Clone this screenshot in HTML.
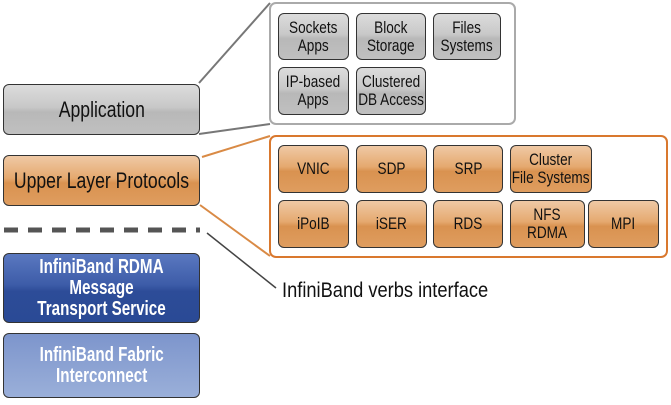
<!DOCTYPE html>
<html><head><meta charset="utf-8"><style>
body{margin:0;width:671px;height:405px;background:#fff;position:relative;overflow:hidden;font-family:"Liberation Sans",sans-serif}
.b{position:absolute;box-sizing:border-box;border:1.5px solid #333;border-radius:6px;display:flex;align-items:center;justify-content:center;text-align:center;line-height:1.05;white-space:nowrap}
.b span{display:inline-block;transform:scaleX(0.8)}
.g{background:linear-gradient(to bottom,#dcdcdc 0%,#c8c8c8 45%,#b8b8b8 55%,#c0c0c0 100%);color:#111}
.o{background:linear-gradient(to bottom,#efc9a5 0%,#e5a96f 45%,#d99250 55%,#df9d5f 100%);color:#111}
.s{font-size:17px}
.L{font-size:22px}
.bl{background:linear-gradient(to bottom,#5a78c0 0%,#3d5ca8 45%,#2d4c98 55%,#2a4a95 100%);color:#fff;font-weight:bold}
.lb{background:linear-gradient(to bottom,#7d95cc,#9aafd9);color:#fff;font-weight:bold}
.bl span,.lb span{transform:scaleX(0.76)}
</style></head><body>
<svg width="671" height="405" style="position:absolute;left:0;top:0">
<line x1="199" y1="83" x2="270" y2="3" stroke="#777" stroke-width="2"/>
<line x1="199" y1="134" x2="270" y2="124" stroke="#777" stroke-width="2"/>
<line x1="202" y1="157" x2="270" y2="136" stroke="#d98a45" stroke-width="2"/>
<line x1="200" y1="205" x2="270" y2="256" stroke="#d98a45" stroke-width="2"/>
<line x1="207" y1="233" x2="276" y2="288" stroke="#444" stroke-width="1.5"/>
<line x1="4" y1="230" x2="200" y2="230" stroke="#555" stroke-width="5" stroke-dasharray="14,10"/>
<rect x="270" y="3" width="245" height="121" rx="6" fill="#fff" stroke="#aaa" stroke-width="2"/>
<rect x="270" y="136" width="397" height="121" rx="6" fill="#fff" stroke="#d9782e" stroke-width="2"/>
</svg>
<div class="b g L" style="left:3px;top:84px;width:197px;height:51px"><span>Application</span></div>
<div class="b o L" style="left:3px;top:155px;width:197px;height:51px"><span>Upper Layer Protocols</span></div>
<div class="b bl" style="left:3px;top:253px;width:197px;height:70px;font-size:20px"><span>InfiniBand RDMA<br>Message<br>Transport Service</span></div>
<div class="b lb" style="left:3px;top:333px;width:197px;height:65px;font-size:20px"><span>InfiniBand Fabric<br>Interconnect</span></div>
<div style="position:absolute;left:282px;top:279px;font-size:21px;color:#111;white-space:nowrap;transform:scaleX(0.87);transform-origin:0 0">InfiniBand verbs interface</div>
<div class="b g s" style="left:278px;top:13px;width:71px;height:47px"><span>Sockets<br>Apps</span></div>
<div class="b g s" style="left:356px;top:13px;width:70px;height:47px"><span>Block<br>Storage</span></div>
<div class="b g s" style="left:433px;top:13px;width:68px;height:47px"><span>Files<br>Systems</span></div>
<div class="b g s" style="left:278px;top:67px;width:71px;height:48px"><span>IP-based<br>Apps</span></div>
<div class="b g s" style="left:356px;top:67px;width:70px;height:48px"><span>Clustered<br>DB Access</span></div>
<div class="b o s" style="left:278px;top:145px;width:71px;height:48px"><span>VNIC</span></div>
<div class="b o s" style="left:356px;top:145px;width:71px;height:48px"><span>SDP</span></div>
<div class="b o s" style="left:433px;top:145px;width:70px;height:48px"><span>SRP</span></div>
<div class="b o s" style="left:510px;top:145px;width:82px;height:48px"><span>Cluster<br>File Systems</span></div>
<div class="b o s" style="left:278px;top:200px;width:71px;height:48px"><span>iPoIB</span></div>
<div class="b o s" style="left:356px;top:200px;width:71px;height:48px"><span>iSER</span></div>
<div class="b o s" style="left:433px;top:200px;width:70px;height:48px"><span>RDS</span></div>
<div class="b o s" style="left:510px;top:200px;width:75px;height:48px"><span>NFS<br>RDMA</span></div>
<div class="b o s" style="left:588px;top:200px;width:71px;height:48px"><span>MPI</span></div>
</body></html>
